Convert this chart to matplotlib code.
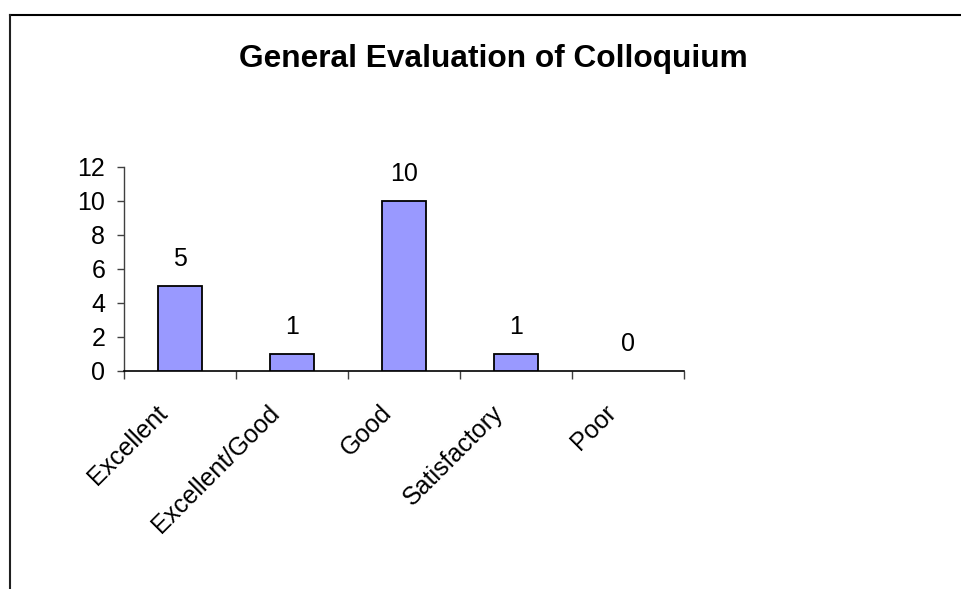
import matplotlib
matplotlib.use("Agg")
import matplotlib.pyplot as plt
from matplotlib.lines import Line2D
from matplotlib.ticker import FixedLocator, NullFormatter

plt.rcParams['font.family'] = ['Liberation Sans', 'DejaVu Sans']

categories = ["Excellent", "Excellent/Good", "Good", "Satisfactory", "Poor"]
values = [5, 1, 10, 1, 0]
yticks = [0, 2, 4, 6, 8, 10, 12]
title = "General Evaluation of Colloquium"

W, H = 962, 589
fig = plt.figure(figsize=(W / 100, H / 100), dpi=100)
fig.patch.set_facecolor("white")

ax = fig.add_axes([124 / W, 1 - 371 / H, 560 / W, 204 / H])
x = list(range(len(categories)))
ax.bar(x, values, width=0.39, color="#9999FF", edgecolor="black",
       linewidth=[1.3 if v > 0 else 0 for v in values], zorder=3)

ax.set_xlim(-0.5, len(categories) - 0.5)
ax.set_ylim(0, 12)
ax.set_yticks(yticks)
ax.tick_params(axis="y", direction="out", length=5, width=1, color="#404040",
               labelsize=18, pad=8.5)

# ticks at category boundaries
ax.xaxis.set_major_locator(FixedLocator([i - 0.5 for i in range(len(categories) + 1)]))
ax.xaxis.set_major_formatter(NullFormatter())
ax.tick_params(axis="x", which="major", direction="out", length=5.5, width=1, color="#404040")

# rotated category labels
for xi, cat in zip(x, categories):
    ax.annotate(cat, xy=(xi, 0), xycoords=("data", "axes fraction"),
                xytext=(-11, -43), textcoords="offset pixels",
                rotation=45, ha="right", va="baseline", rotation_mode="anchor",
                fontsize=18, annotation_clip=False)

for s in ["top", "right"]:
    ax.spines[s].set_visible(False)
ax.spines["left"].set_color("#404040")
ax.spines["bottom"].set_color("black")
ax.spines["left"].set_linewidth(1)
ax.spines["bottom"].set_linewidth(1.2)

for xi, v in zip(x, values):
    ax.annotate(str(v), (xi, v), xytext=(0, 20), textcoords="offset pixels",
                ha="center", va="baseline", fontsize=18)

fig.text(493.5 / W, 1 - 66.7 / H, title, ha="center", va="baseline",
         fontsize=22.8, fontweight="bold")

# outer frame (top and left edges visible)
fig.add_artist(Line2D([10 / W, 1.0], [1 - 15 / H, 1 - 15 / H], transform=fig.transFigure,
                      color="black", linewidth=1.5))
fig.add_artist(Line2D([10 / W, 10 / W], [0, 1 - 15 / H], transform=fig.transFigure,
                      color="#202020", linewidth=1.5))

fig.savefig("out.png", dpi=100, facecolor="white")
